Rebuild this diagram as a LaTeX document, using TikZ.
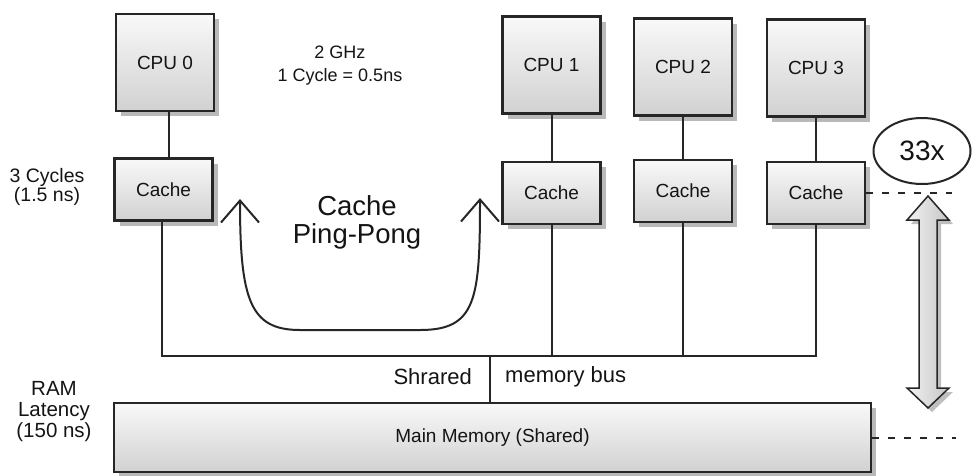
\documentclass[tikz,border=0pt]{standalone}
\usepackage{fontspec}
\setmainfont{Liberation Sans}
\usetikzlibrary{shadows,arrows.meta,shapes.geometric,calc}
\definecolor{ink}{HTML}{262626}
\definecolor{txt}{HTML}{141414}
\begin{document}
\begin{tikzpicture}[x=1pt,y=-1pt,
  box/.style={draw=ink, line width=2.4pt, top color=gray!5, bottom color=gray!36,
    drop shadow={shadow xshift=5pt, shadow yshift=-5pt, fill=gray!55, opacity=1},
    text=txt, inner sep=0pt},
  cpubox/.style={box, minimum width=98pt, minimum height=97pt, font=\fontsize{19}{20}\selectfont},
  cachebox/.style={box, minimum width=98pt, minimum height=62pt, font=\fontsize{19}{20}\selectfont},
  wire/.style={draw=ink, line width=2pt},
  lbl/.style={text=txt, align=center, inner sep=0pt},
  pingarrow/.style={{Straight Barb[length=22pt,width=38pt]}-{Straight Barb[length=22pt,width=38pt]}},
  dashline/.style={draw=ink, line width=2pt, dash pattern=on 7pt off 9pt},
]
\useasboundingbox (0,0) rectangle (974,475);

% CPUs
\node[cpubox] (cpu0) at (165,62.5) {CPU 0};
\node[cpubox] (cpu1) at (551.5,65) {CPU 1};
\node[cpubox] (cpu2) at (683,67) {CPU 2};
\node[cpubox] (cpu3) at (816,68) {CPU 3};

% caches
\node[cachebox] (c0) at (163.5,189.5) {Cache};
\node[cachebox] (c1) at (551.5,193) {Cache};
\node[cachebox] (c2) at (683,191) {Cache};
\node[cachebox] (c3) at (816,193) {Cache};

% main memory
\node[box, minimum width=757pt, minimum height=69pt, font=\fontsize{19}{20}\selectfont] (mem) at (492.5,437.5) {Main Memory (Shared)};

% CPU - cache links
\draw[wire] ($(cpu0.south)+(4,0)$) -- ($(c0.north)+(5.5,0)$);
\draw[wire] (cpu1.south) -- (c1.north);
\draw[wire] (cpu2.south) -- (c2.north);
\draw[wire] (cpu3.south) -- (c3.north);

% bus
\coordinate (bus) at (490,356);
\draw[wire] ($(c0.south)+(-1.5,0)$) |- (c3.south |- bus) -- (c3.south);
\draw[wire] (c1.south) -- (c1.south |- bus);
\draw[wire] (c2.south) -- (c2.south |- bus);
\draw[wire] (bus) -- (bus |- mem.north);

% labels
\node[lbl, font=\fontsize{18}{23}\selectfont] (ghz) at (340,66) {2 GHz\\1 Cycle = 0.5ns};
\node[lbl, font=\fontsize{27.5}{28}\selectfont] (ping) at (357,222) {Cache\\Ping-Pong};
\node[lbl, font=\fontsize{19.5}{19}\selectfont] (cyc) at (47,187) {3 Cycles\\(1.5 ns)};
\node[lbl, font=\fontsize{20.5}{21}\selectfont] (ram) at (54,412) {RAM\\Latency\\(150 ns)};
\node[lbl, font=\fontsize{22}{22}\selectfont, anchor=east] (shr) at (472,377) {Shrared};
\node[lbl, font=\fontsize{22}{22}\selectfont, anchor=west] (mbus) at (505,377) {memory bus};

% ping-pong arrow
\coordinate (pl) at (240,199);
\coordinate (pr) at (480,198);
\draw[wire, pingarrow] (pl) .. controls (240,300) and (250,330) .. (300,330) -- (420,330) .. controls (476,330) and (480,300) .. (pr);

% 33x
\node[ellipse, draw=ink, line width=2pt, fill=white, minimum width=97pt, minimum height=66pt, inner sep=0pt, text=txt, font=\fontsize{28}{28}\selectfont] (x33) at (922,151) {33x};

% dashed guides
\coordinate (d1) at (952,193);
\coordinate (d2) at (956,437.5);
\draw[dashline] (c3.east) -- (d1);
\draw[dashline] (mem.east) -- (d2);

% double arrow
\coordinate (at) at (928,196);
\coordinate (ab) at (928,408);
\draw[draw=ink, line width=1.5pt, left color=gray!10, right color=gray!45,
  drop shadow={shadow xshift=4pt, shadow yshift=-4pt, fill=gray!50, opacity=1}]
  (at) -- ++(21,24) -- ++(-12,0) -- ++(0,168) -- ++(12,0) -- (ab) -- ++(-21,-20) -- ++(12,0) -- ++(0,-168) -- ++(-12,0) -- cycle;
\end{tikzpicture}
\end{document}
